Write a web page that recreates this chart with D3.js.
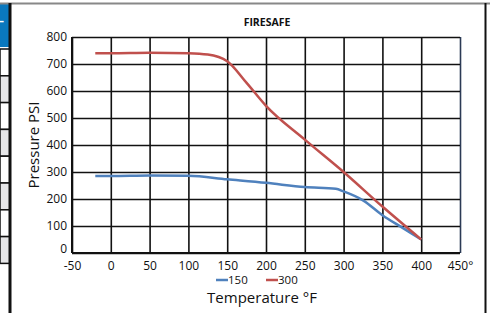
<!DOCTYPE html>
<html>
<head>
<meta charset="utf-8">
<script src="https://cdn.jsdelivr.net/npm/d3@7"></script>
<style>
  body { margin: 0; background: #fff; }
  svg { display: block; font-family: "Open Sans", sans-serif; }
</style>
</head>
<body>
<svg id="chart" width="490" height="313"></svg>
<script>
// Chart data
const chartTitle = "FIRESAFE";
const tempTicks = [-50, 0, 50, 100, 150, 200, 250, 300, 350, 400, 450];
const pressureTicks = [0, 100, 200, 300, 400, 500, 600, 700, 800];
const seriesNames = ["150", "300"];
const temps150 = [-20, 0, 50, 100, 150, 200, 250, 290, 300, 325, 350, 375, 400];
const psi150 = [285, 285, 287, 286, 273, 260, 244, 238, 228, 195, 140, 95, 50];
const temps300 = [-20, 0, 50, 100, 125, 150, 175, 200, 250, 300, 350, 400];
const psi300 = [740, 740, 742, 740, 735, 710, 630, 545, 420, 300, 172, 50];
const tableRows = [0, 1, 2, 3, 4, 5, 6, 7];

const colors = ["#4f81bd", "#c0504d"];

const svg = d3.select("#chart");

// left table fragment (cut off by the page edge)
svg.append("rect").attr("x", 0).attr("y", 4).attr("width", 10).attr("height", 43).attr("fill", "#0a78be");
svg.append("text").attr("x", 4).attr("y", 25).attr("text-anchor", "end")
  .attr("fill", "#fff").style("font-size", "12px").style("font-weight", "bold").text("–");
svg.selectAll("rect.row")
  .data(tableRows)
  .enter()
  .append("rect")
  .attr("class", "row")
  .attr("x", 0)
  .attr("y", d => 49 + d * 26.8)
  .attr("width", 10)
  .attr("height", 26.8)
  .attr("fill", d => d % 2 ? "#e6e6e8" : "#fff")
  .attr("stroke", "#111")
  .attr("stroke-width", 1.5);

// chart box
svg.append("line").attr("x1", 0).attr("x2", 490).attr("y1", 3.5).attr("y2", 3.5)
  .attr("stroke", "#888").attr("stroke-width", 2);
svg.append("line").attr("x1", 10).attr("x2", 10).attr("y1", 3).attr("y2", 313)
  .attr("stroke", "#111").attr("stroke-width", 3);
svg.append("line").attr("x1", 485.5).attr("x2", 485.5).attr("y1", 3).attr("y2", 313)
  .attr("stroke", "#111").attr("stroke-width", 2);

const margin = { top: 37, left: 72 };
const width = 388;
const height = 216;

const x = d3.scaleLinear().domain([-50, 450]).range([margin.left, margin.left + width]);
const y = d3.scaleLinear().domain([0, 800]).range([margin.top + height, margin.top]);

// grid + axes
const xAxis = svg.append("g")
  .attr("transform", `translate(0,${margin.top + height})`)
  .call(d3.axisBottom(x).tickValues(tempTicks).tickSize(-height).tickPadding(8)
    .tickFormat(d => d === 450 ? "450°" : d));
const yAxis = svg.append("g")
  .attr("transform", `translate(${margin.left},0)`)
  .call(d3.axisLeft(y).tickValues(pressureTicks).tickSize(-width).tickPadding(5));

[xAxis, yAxis].forEach(g => {
  g.select(".domain").remove();
  g.selectAll(".tick line").attr("stroke", "#111").attr("stroke-width", 1.6);
  g.selectAll(".tick text").attr("fill", "#111").style("font-size", "12px")
    .style("font-family", "'Open Sans', sans-serif");
});
xAxis.selectAll(".tick").filter(d => d === 450).select("line").attr("stroke", "#2b3a55");
// zero label sits slightly above the baseline, as in the original
yAxis.selectAll(".tick").filter(d => d === 0).select("text").attr("dy", "-0.05em");

// plot frame
svg.append("line").attr("x1", x(-50)).attr("x2", x(450)).attr("y1", y(0)).attr("y2", y(0))
  .attr("stroke", "#111").attr("stroke-width", 2);
svg.append("line").attr("x1", x(-50)).attr("x2", x(-50)).attr("y1", y(0)).attr("y2", y(800))
  .attr("stroke", "#111").attr("stroke-width", 2);

// series lines
const line = d3.line()
  .x(d => x(d[0]))
  .y(d => y(d[1]))
  .curve(d3.curveMonotoneX);

const series = [
  d3.zip(temps150, psi150),
  d3.zip(temps300, psi300)
];

series.forEach((pts, i) => {
  svg.append("path")
    .datum(pts)
    .attr("fill", "none")
    .attr("stroke", colors[i])
    .attr("stroke-width", 2.5)
    .attr("stroke-linejoin", "round")
    .attr("d", line);
});

// title
svg.append("text")
  .attr("x", 267).attr("y", 26)
  .attr("text-anchor", "middle")
  .style("font-size", "10.5px").style("font-weight", "bold")
  .attr("fill", "#111")
  .text(chartTitle);

// axis titles
svg.append("text")
  .attr("transform", `translate(39,${margin.top + height / 2}) rotate(-90)`)
  .attr("text-anchor", "middle")
  .style("font-size", "15px")
  .attr("fill", "#111")
  .text("Pressure PSI");

svg.append("text")
  .attr("x", 262).attr("y", 303)
  .attr("text-anchor", "middle")
  .style("font-size", "15px")
  .attr("fill", "#111")
  .text("Temperature °F");

// legend
const legendX = [216, 266];
seriesNames.forEach((name, i) => {
  const lg = svg.append("g").attr("transform", `translate(${legendX[i]},280)`);
  lg.append("line").attr("x1", 0).attr("x2", 12).attr("y1", 0).attr("y2", 0)
    .attr("stroke", colors[i]).attr("stroke-width", 2.5);
  lg.append("text").attr("x", 12).attr("y", 4)
    .style("font-size", "11.5px").attr("fill", "#111").text(name);
});
</script>
</body>
</html>
